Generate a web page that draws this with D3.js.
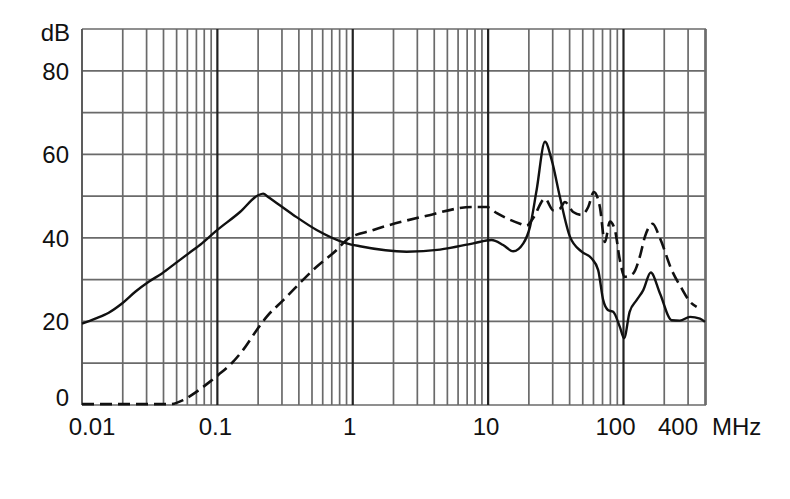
<!DOCTYPE html>
<html><head><meta charset="utf-8">
<script src="https://cdn.jsdelivr.net/npm/d3@7"></script>
<style>
html,body{margin:0;padding:0;background:#fff;}
svg{display:block;}
text{font-family:Arial,"Liberation Sans",Helvetica,sans-serif;fill:#111;}
</style></head>
<body>
<svg id="chart" width="790" height="499"></svg>
<script>
// ---- data ----
const xTickLabels = ["0.01","0.1","1","10","100","400"];
const xTickValues = [0.01,0.1,1,10,100,400];
const yTickValues = [0,20,40,60,80];
const xUnit = "MHz";
const yUnit = "dB";

const solidFreq = [0.01,0.01254,0.01575,0.01974,0.02475,0.0311,0.039,0.0489,0.0614,0.0769,0.0965,0.147,0.2,0.218,0.237,0.364,0.541,0.9,1.13,2.5,4.41,7.77,10.6,12.9,15.3,18.2,20.4,22.8,26.3,29.5,33.9,40.2,49.1,58.1,65.0,70.8,77.1,83.9,94.0,101,111,125,140,159,186,227,261,310,367,400];
const solidDb   = [19.5,20.7,22.1,24.3,27.1,29.5,31.5,33.9,36.3,38.7,41.5,46.2,50.2,50.6,49.8,45.5,41.9,38.7,38.0,36.7,37.2,38.7,39.5,38.3,36.8,38.7,42.7,51.4,63.0,58.6,49.8,40.3,36.7,35.1,32.3,25.1,22.7,22.3,18.7,16.0,22.3,25.1,27.5,31.7,26.7,20.3,20.2,21.1,20.7,19.9];

const dashFreq = [0.01,0.0447,0.056,0.0703,0.0882,0.1016,0.1276,0.155,0.195,0.231,0.307,0.541,0.76,0.9,1.42,3.32,7.77,9.75,11.6,17.2,19.2,21.5,26.3,30.3,33.9,36.9,42.5,49.1,54.9,60.4,66.9,72.9,79.4,86.4,94,102,118,132,144,164,186,227,269,310,347];
const dashDb   = [0.2,0.2,1.2,3.2,5.6,7.2,10.0,13.2,17.9,21.1,25.1,33.1,37.1,39.5,41.9,45.1,47.4,47.4,45.9,43.4,42.9,44.7,49.4,46.6,47.0,48.6,46.2,45.5,47.4,51.0,47.4,39.0,43.9,41.9,34.7,30.7,31.5,35.5,40.3,43.4,39.9,32.3,27.9,24.7,23.5];

// ---- chart ----
const svg = d3.select("#chart");
const x = d3.scaleLog().domain([0.01,400]).range([82,705]);
const y = d3.scaleLinear().domain([0,90]).range([405,29]);

const gridColor = "#6a6a6a";
const g = svg.append("g");
// vertical minor gridlines
const minor = [];
[0.01,0.1,1,10,100].forEach(d=>{ for(let k=2;k<=9;k++){ const v=d*k; if(v<=400) minor.push(v);} });
g.selectAll("line.vmin").data(minor).join("line")
  .attr("x1",d=>x(d)).attr("x2",d=>x(d)).attr("y1",y(0)).attr("y2",y(90))
  .attr("stroke",gridColor).attr("stroke-width",1.7);
// horizontal gridlines
g.selectAll("line.h").data(d3.range(0,91,10)).join("line")
  .attr("x1",x(0.01)).attr("x2",x(400)+1).attr("y1",d=>y(d)).attr("y2",d=>y(d))
  .attr("stroke",gridColor).attr("stroke-width",1.7);
// right edge and left edge
g.append("line").attr("x1",x(400)+1).attr("x2",x(400)+1).attr("y1",y(0)).attr("y2",y(90)).attr("stroke",gridColor).attr("stroke-width",1.7);
g.append("line").attr("x1",x(0.01)).attr("x2",x(0.01)).attr("y1",y(0)).attr("y2",y(90)).attr("stroke","#555").attr("stroke-width",1.9);
// decade lines
g.selectAll("line.dec").data([0.1,1,10,100]).join("line")
  .attr("x1",d=>x(d)).attr("x2",d=>x(d)).attr("y1",y(0)).attr("y2",y(90))
  .attr("stroke","#222").attr("stroke-width",2.2);

// curves
const line = d3.line().x(d=>x(d[0])).y(d=>y(d[1])).curve(d3.curveMonotoneX);
svg.append("path").datum(d3.zip(dashFreq,dashDb)).attr("d",line)
  .attr("fill","none").attr("stroke","#111").attr("stroke-width",2.6).attr("stroke-dasharray","12,6");
svg.append("path").datum(d3.zip(solidFreq,solidDb)).attr("d",line)
  .attr("fill","none").attr("stroke","#111").attr("stroke-width",2.4);

// y labels
svg.selectAll("text.yl").data(yTickValues).join("text")
  .attr("x",69).attr("y",d=>y(d)+ (d===0? 1 : 9)).attr("text-anchor","end")
  .attr("font-size",24).text(d=>d);
svg.append("text").attr("x",70).attr("y",41).attr("text-anchor","end").attr("font-size",24).text(yUnit);

// x labels
const dx = [10,-2,-3,-2,-8,-7];
svg.selectAll("text.xl").data(xTickValues).join("text")
  .attr("x",(d,i)=>x(d)+dx[i]).attr("y",435)
  .attr("text-anchor",(d,i)=> i===5 ? "end" : "middle")
  .attr("font-size",24).text((d,i)=>xTickLabels[i]);
svg.append("text").attr("x",x(400)+7).attr("y",435).attr("font-size",24).text(xUnit);
</script>
</body></html>
